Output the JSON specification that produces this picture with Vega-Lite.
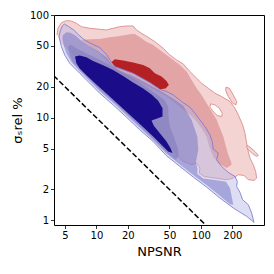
{
"$schema": "https://vega.github.io/schema/vega-lite/v6.json",
"width": 210, "height": 210,
"autosize": {"type": "none"},
"padding": {"left": 54, "top": 15, "right": 10, "bottom": 49},
"datasets": {
"poly": [
{"p":"R1","i":1,"x":4.198,"y":63.91},{"p":"R1","i":2,"x":4.291,"y":74.19},{"p":"R1","i":3,"x":4.619,"y":84.22},{"p":"R1","i":4,"x":5.158,"y":88.10},{"p":"R1","i":5,"x":5.760,"y":87.43},{"p":"R1","i":6,"x":6.430,"y":82.99},{"p":"R1","i":7,"x":7.181,"y":77.01},{"p":"R1","i":8,"x":8.633,"y":74.19},{"p":"R1","i":9,"x":10.76,"y":72.55},{"p":"R1","i":10,"x":12.47,"y":71.47},{"p":"R1","i":11,"x":14.45,"y":74.19},{"p":"R1","i":12,"x":16.73,"y":77.01},{"p":"R1","i":13,"x":19.39,"y":78.17},{"p":"R1","i":14,"x":22.46,"y":78.17},{"p":"R1","i":15,"x":24.17,"y":71.47},{"p":"R1","i":16,"x":27.00,"y":66.33},{"p":"R1","i":17,"x":31.28,"y":60.65},{"p":"R1","i":18,"x":36.24,"y":55.04},{"p":"R1","i":19,"x":43.55,"y":47.41},{"p":"R1","i":20,"x":50.46,"y":40.83},{"p":"R1","i":21,"x":58.46,"y":36.51},{"p":"R1","i":22,"x":67.72,"y":33.38},{"p":"R1","i":23,"x":78.45,"y":28.11},{"p":"R1","i":24,"x":90.88,"y":24.21},{"p":"R1","i":25,"x":101.5,"y":21.65},{"p":"R1","i":26,"x":117.6,"y":19.36},{"p":"R1","i":27,"x":136.2,"y":17.31},{"p":"R1","i":28,"x":157.8,"y":16.06},{"p":"R1","i":29,"x":189.7,"y":14.36},{"p":"R1","i":30,"x":211.8,"y":12.37},{"p":"R1","i":31,"x":228.0,"y":10.66},{"p":"R1","i":32,"x":250.8,"y":8.518},{"p":"R1","i":33,"x":264.1,"y":7.068},{"p":"R1","i":34,"x":274.0,"y":5.649},{"p":"R1","i":35,"x":284.2,"y":4.688},{"p":"R1","i":36,"x":294.9,"y":4.038},{"p":"R1","i":37,"x":317.4,"y":3.478},{"p":"R1","i":38,"x":334.2,"y":2.996},{"p":"R1","i":39,"x":341.6,"y":2.580},{"p":"R1","i":40,"x":322.1,"y":2.449},{"p":"R1","i":41,"x":284.2,"y":2.486},{"p":"R1","i":42,"x":258.4,"y":2.739},{"p":"R1","i":43,"x":228.0,"y":2.781},{"p":"R1","i":44,"x":204.2,"y":2.580},{"p":"R1","i":45,"x":176.2,"y":2.486},{"p":"R1","i":46,"x":136.2,"y":2.580},{"p":"R1","i":47,"x":106.9,"y":2.679},{"p":"R1","i":48,"x":96.40,"y":2.886},{"p":"R1","i":49,"x":97.81,"y":3.228},{"p":"R1","i":50,"x":90.88,"y":3.611},{"p":"R1","i":51,"x":81.39,"y":3.478},{"p":"R1","i":52,"x":67.72,"y":3.747},{"p":"R1","i":53,"x":58.46,"y":4.351},{"p":"R1","i":54,"x":46.87,"y":5.649},{"p":"R1","i":55,"x":37.59,"y":7.616},{"p":"R1","i":56,"x":22.46,"y":12.84},{"p":"R1","i":57,"x":13.42,"y":20.10},{"p":"R1","i":58,"x":8.021,"y":31.45},{"p":"R1","i":59,"x":5.975,"y":40.83},{"p":"R1","i":60,"x":4.619,"y":53.03},
{"p":"H","i":1,"x":123.8,"y":13.63},{"p":"H","i":2,"x":136.2,"y":13.33},{"p":"H","i":3,"x":149.9,"y":12.37},{"p":"H","i":4,"x":160.1,"y":11.06},{"p":"H","i":5,"x":157.8,"y":10.26},{"p":"H","i":6,"x":143.4,"y":10.50},{"p":"H","i":7,"x":131.3,"y":11.48},{"p":"H","i":8,"x":122.0,"y":12.65},{"p":"H","i":9,"x":123.8,"y":13.63},
{"p":"I1","i":1,"x":173.6,"y":19.80},{"p":"I1","i":2,"x":186.9,"y":19.36},{"p":"I1","i":3,"x":204.2,"y":16.67},{"p":"I1","i":4,"x":219.8,"y":14.36},{"p":"I1","i":5,"x":216.5,"y":13.33},{"p":"I1","i":6,"x":201.2,"y":13.84},{"p":"I1","i":7,"x":182.8,"y":16.06},{"p":"I1","i":8,"x":172.3,"y":18.38},{"p":"I1","i":9,"x":173.6,"y":19.80},
{"p":"I2","i":1,"x":278.0,"y":5.363},{"p":"I2","i":2,"x":294.9,"y":5.166},{"p":"I2","i":3,"x":329.3,"y":4.688},{"p":"I2","i":4,"x":354.4,"y":4.288},{"p":"I2","i":5,"x":341.6,"y":4.192},{"p":"I2","i":6,"x":312.8,"y":4.449},{"p":"I2","i":7,"x":284.2,"y":4.866},{"p":"I2","i":8,"x":274.0,"y":5.166},{"p":"I2","i":9,"x":278.0,"y":5.363},
{"p":"R2","i":1,"x":7.181,"y":57.14},{"p":"R2","i":2,"x":8.633,"y":58.00},{"p":"R2","i":3,"x":10.76,"y":58.43},{"p":"R2","i":4,"x":13.42,"y":60.65},{"p":"R2","i":5,"x":16.73,"y":62.49},{"p":"R2","i":6,"x":20.87,"y":64.86},{"p":"R2","i":7,"x":23.30,"y":65.35},{"p":"R2","i":8,"x":26.02,"y":60.65},{"p":"R2","i":9,"x":30.15,"y":55.04},{"p":"R2","i":10,"x":34.92,"y":51.08},{"p":"R2","i":11,"x":40.46,"y":45.66},{"p":"R2","i":12,"x":46.87,"y":40.83},{"p":"R2","i":13,"x":54.30,"y":36.51},{"p":"R2","i":14,"x":62.92,"y":32.64},{"p":"R2","i":15,"x":72.88,"y":28.11},{"p":"R2","i":16,"x":81.39,"y":23.33},{"p":"R2","i":17,"x":90.88,"y":19.36},{"p":"R2","i":18,"x":101.5,"y":16.67},{"p":"R2","i":19,"x":113.3,"y":13.84},{"p":"R2","i":20,"x":126.6,"y":11.48},{"p":"R2","i":21,"x":141.3,"y":9.526},{"p":"R2","i":22,"x":152.1,"y":7.905},{"p":"R2","i":23,"x":163.7,"y":6.560},{"p":"R2","i":24,"x":173.6,"y":5.243},{"p":"R2","i":25,"x":182.8,"y":4.351},{"p":"R2","i":26,"x":193.9,"y":3.747},{"p":"R2","i":27,"x":196.8,"y":3.478},{"p":"R2","i":28,"x":176.2,"y":3.228},{"p":"R2","i":29,"x":146.6,"y":3.611},{"p":"R2","i":30,"x":131.3,"y":4.192},{"p":"R2","i":31,"x":120.2,"y":5.243},{"p":"R2","i":32,"x":113.3,"y":6.560},{"p":"R2","i":33,"x":101.5,"y":7.905},{"p":"R2","i":34,"x":90.88,"y":9.177},{"p":"R2","i":35,"x":78.45,"y":10.66},{"p":"R2","i":36,"x":65.27,"y":12.37},{"p":"R2","i":37,"x":54.30,"y":14.36},{"p":"R2","i":38,"x":46.87,"y":16.06},{"p":"R2","i":39,"x":32.45,"y":19.80},{"p":"R2","i":40,"x":22.46,"y":23.33},{"p":"R2","i":41,"x":15.55,"y":28.11},{"p":"R2","i":42,"x":10.76,"y":42.39},{"p":"R2","i":43,"x":8.021,"y":51.08},
{"p":"R3","i":1,"x":13.92,"y":34.65},{"p":"R3","i":2,"x":14.99,"y":37.06},{"p":"R3","i":3,"x":18.01,"y":35.97},{"p":"R3","i":4,"x":22.46,"y":34.39},{"p":"R3","i":5,"x":28.01,"y":32.64},{"p":"R3","i":6,"x":32.45,"y":30.29},{"p":"R3","i":7,"x":36.24,"y":27.08},{"p":"R3","i":8,"x":41.98,"y":25.13},{"p":"R3","i":9,"x":46.87,"y":22.81},{"p":"R3","i":10,"x":49.36,"y":20.86},{"p":"R3","i":11,"x":45.85,"y":19.21},{"p":"R3","i":12,"x":40.46,"y":18.93},{"p":"R3","i":13,"x":32.45,"y":21.98},{"p":"R3","i":14,"x":22.46,"y":27.08},{"p":"R3","i":15,"x":14.99,"y":31.45},
{"p":"B1","i":1,"x":4.519,"y":70.39},{"p":"B1","i":2,"x":4.722,"y":78.17},{"p":"B1","i":3,"x":4.935,"y":81.75},{"p":"B1","i":4,"x":5.430,"y":77.01},{"p":"B1","i":5,"x":6.063,"y":71.47},{"p":"B1","i":6,"x":6.770,"y":63.91},{"p":"B1","i":7,"x":7.561,"y":58.00},{"p":"B1","i":8,"x":8.761,"y":53.03},{"p":"B1","i":9,"x":10.76,"y":48.12},{"p":"B1","i":10,"x":12.47,"y":41.45},{"p":"B1","i":11,"x":13.92,"y":34.65},{"p":"B1","i":12,"x":14.99,"y":31.45},{"p":"B1","i":13,"x":22.46,"y":27.08},{"p":"B1","i":14,"x":32.45,"y":21.98},{"p":"B1","i":15,"x":40.46,"y":18.93},{"p":"B1","i":16,"x":46.87,"y":17.97},{"p":"B1","i":17,"x":54.30,"y":16.67},{"p":"B1","i":18,"x":65.27,"y":14.36},{"p":"B1","i":19,"x":78.45,"y":12.65},{"p":"B1","i":20,"x":87.59,"y":11.06},{"p":"B1","i":21,"x":97.81,"y":9.526},{"p":"B1","i":22,"x":109.2,"y":8.206},{"p":"B1","i":23,"x":122.0,"y":6.810},{"p":"B1","i":24,"x":128.4,"y":5.865},{"p":"B1","i":25,"x":131.3,"y":4.940},{"p":"B1","i":26,"x":146.6,"y":4.516},{"p":"B1","i":27,"x":141.3,"y":3.890},{"p":"B1","i":28,"x":157.8,"y":3.351},{"p":"B1","i":29,"x":182.8,"y":2.930},{"p":"B1","i":30,"x":211.8,"y":2.679},{"p":"B1","i":31,"x":223.0,"y":2.395},{"p":"B1","i":32,"x":219.8,"y":2.141},{"p":"B1","i":33,"x":236.5,"y":1.872},{"p":"B1","i":34,"x":250.8,"y":1.589},{"p":"B1","i":35,"x":284.2,"y":1.420},{"p":"B1","i":36,"x":305.9,"y":1.178},{"p":"B1","i":37,"x":322.1,"y":0.956},{"p":"B1","i":38,"x":274.0,"y":1.094},{"p":"B1","i":39,"x":204.2,"y":1.318},{"p":"B1","i":40,"x":152.1,"y":1.649},{"p":"B1","i":41,"x":113.3,"y":2.109},{"p":"B1","i":42,"x":84.44,"y":2.639},{"p":"B1","i":43,"x":62.92,"y":3.351},{"p":"B1","i":44,"x":46.87,"y":4.255},{"p":"B1","i":45,"x":34.92,"y":5.865},{"p":"B1","i":46,"x":26.02,"y":7.616},{"p":"B1","i":47,"x":19.39,"y":10.11},{"p":"B1","i":48,"x":14.45,"y":13.33},{"p":"B1","i":49,"x":10.76,"y":17.31},{"p":"B1","i":50,"x":8.633,"y":21.65},{"p":"B1","i":51,"x":6.922,"y":27.08},{"p":"B1","i":52,"x":5.552,"y":33.88},{"p":"B1","i":53,"x":4.972,"y":40.83},{"p":"B1","i":54,"x":4.619,"y":49.21},{"p":"B1","i":55,"x":4.387,"y":61.56},{"p":"B1","i":56,"x":4.519,"y":70.39},
{"p":"B2","i":1,"x":4.792,"y":63.91},{"p":"B2","i":2,"x":5.158,"y":67.83},{"p":"B2","i":3,"x":5.634,"y":67.33},{"p":"B2","i":4,"x":6.197,"y":63.91},{"p":"B2","i":5,"x":7.024,"y":57.14},{"p":"B2","i":6,"x":8.139,"y":51.08},{"p":"B2","i":7,"x":10.15,"y":45.00},{"p":"B2","i":8,"x":12.47,"y":38.75},{"p":"B2","i":9,"x":14.45,"y":31.92},{"p":"B2","i":10,"x":16.73,"y":28.74},{"p":"B2","i":11,"x":22.46,"y":25.51},{"p":"B2","i":12,"x":32.45,"y":20.86},{"p":"B2","i":13,"x":43.55,"y":17.56},{"p":"B2","i":14,"x":54.30,"y":15.36},{"p":"B2","i":15,"x":67.72,"y":13.03},{"p":"B2","i":16,"x":81.39,"y":9.526},{"p":"B2","i":17,"x":92.24,"y":6.560},{"p":"B2","i":18,"x":94.28,"y":4.866},{"p":"B2","i":19,"x":89.56,"y":3.664},{"p":"B2","i":20,"x":92.92,"y":3.157},{"p":"B2","i":21,"x":92.24,"y":2.843},{"p":"B2","i":22,"x":105.3,"y":2.561},{"p":"B2","i":23,"x":136.2,"y":2.467},{"p":"B2","i":24,"x":173.6,"y":2.377},{"p":"B2","i":25,"x":189.7,"y":2.063},{"p":"B2","i":26,"x":198.2,"y":1.649},{"p":"B2","i":27,"x":204.2,"y":1.420},{"p":"B2","i":28,"x":189.7,"y":1.431},{"p":"B2","i":29,"x":152.1,"y":1.738},{"p":"B2","i":30,"x":113.3,"y":2.206},{"p":"B2","i":31,"x":84.44,"y":2.760},{"p":"B2","i":32,"x":62.92,"y":3.504},{"p":"B2","i":33,"x":46.87,"y":4.449},{"p":"B2","i":34,"x":34.92,"y":6.042},{"p":"B2","i":35,"x":26.02,"y":7.964},{"p":"B2","i":36,"x":19.39,"y":10.58},{"p":"B2","i":37,"x":14.45,"y":13.94},{"p":"B2","i":38,"x":10.76,"y":18.10},{"p":"B2","i":39,"x":8.633,"y":22.64},{"p":"B2","i":40,"x":6.922,"y":28.32},{"p":"B2","i":41,"x":5.760,"y":34.91},{"p":"B2","i":42,"x":5.158,"y":42.39},{"p":"B2","i":43,"x":4.863,"y":51.08},{"p":"B2","i":44,"x":4.722,"y":59.31},
{"p":"B3","i":1,"x":5.351,"y":49.21},{"p":"B3","i":2,"x":5.760,"y":51.08},{"p":"B3","i":3,"x":6.672,"y":46.36},{"p":"B3","i":4,"x":8.021,"y":42.39},{"p":"B3","i":5,"x":10.0,"y":37.90},{"p":"B3","i":6,"x":12.47,"y":33.88},{"p":"B3","i":7,"x":14.99,"y":30.29},{"p":"B3","i":8,"x":18.01,"y":27.08},{"p":"B3","i":9,"x":22.46,"y":24.21},{"p":"B3","i":10,"x":30.15,"y":19.80},{"p":"B3","i":11,"x":37.59,"y":17.05},{"p":"B3","i":12,"x":45.19,"y":14.69},{"p":"B3","i":13,"x":48.63,"y":12.65},{"p":"B3","i":14,"x":48.63,"y":10.66},{"p":"B3","i":15,"x":50.46,"y":8.206},{"p":"B3","i":16,"x":56.33,"y":6.087},{"p":"B3","i":17,"x":60.64,"y":4.866},{"p":"B3","i":18,"x":60.64,"y":4.192},{"p":"B3","i":19,"x":57.60,"y":3.890},{"p":"B3","i":20,"x":46.87,"y":4.618},{"p":"B3","i":21,"x":34.92,"y":6.272},{"p":"B3","i":22,"x":26.02,"y":8.267},{"p":"B3","i":23,"x":19.39,"y":10.98},{"p":"B3","i":24,"x":14.45,"y":14.47},{"p":"B3","i":25,"x":10.76,"y":18.79},{"p":"B3","i":26,"x":8.633,"y":23.50},{"p":"B3","i":27,"x":6.922,"y":29.40},{"p":"B3","i":28,"x":5.975,"y":34.39},{"p":"B3","i":29,"x":5.552,"y":40.83},
{"p":"B4","i":1,"x":6.243,"y":39.34},{"p":"B4","i":2,"x":6.922,"y":40.22},{"p":"B4","i":3,"x":8.021,"y":38.75},{"p":"B4","i":4,"x":9.291,"y":35.70},{"p":"B4","i":5,"x":11.59,"y":32.40},{"p":"B4","i":6,"x":14.45,"y":29.19},{"p":"B4","i":7,"x":18.01,"y":25.51},{"p":"B4","i":8,"x":22.46,"y":21.98},{"p":"B4","i":9,"x":28.01,"y":19.21},{"p":"B4","i":10,"x":33.68,"y":16.80},{"p":"B4","i":11,"x":39.01,"y":14.58},{"p":"B4","i":12,"x":42.92,"y":12.37},{"p":"B4","i":13,"x":42.92,"y":10.26},{"p":"B4","i":14,"x":37.59,"y":9.743},{"p":"B4","i":15,"x":33.68,"y":9.385},{"p":"B4","i":16,"x":35.44,"y":8.330},{"p":"B4","i":17,"x":40.46,"y":7.068},{"p":"B4","i":18,"x":46.87,"y":5.865},{"p":"B4","i":19,"x":51.21,"y":5.051},{"p":"B4","i":20,"x":53.51,"y":4.516},{"p":"B4","i":21,"x":48.63,"y":4.688},{"p":"B4","i":22,"x":34.92,"y":6.560},{"p":"B4","i":23,"x":24.53,"y":9.177},{"p":"B4","i":24,"x":18.01,"y":12.19},{"p":"B4","i":25,"x":13.42,"y":16.06},{"p":"B4","i":26,"x":10.0,"y":21.01},{"p":"B4","i":27,"x":8.021,"y":25.90},{"p":"B4","i":28,"x":6.922,"y":30.07},{"p":"B4","i":29,"x":6.430,"y":33.88}
],
"ref": [{"i":1,"x":3.9,"y":25.64},{"i":2,"x":112,"y":0.8929}]
},
"encoding": {
"x": {"field":"x","type":"quantitative","scale":{"type":"log","domain":[3.928,401.6],"nice":false},"axis":{"values":[5,10,20,50,100,200],"format":"~g","title":"NPSNR","labelPadding":2,"titlePadding":5}},
"y": {"field":"y","type":"quantitative","scale":{"type":"log","domain":[0.901,100],"nice":false},"axis":{"values":[1,2,5,10,20,50,100],"format":"~g","title":"σₛrel %","labelPadding":2,"titlePadding":5}},
"order": {"field":"i","type":"quantitative"}
},
"layer": [
{"data":{"name":"poly"},"transform":[{"filter":"datum.p=='R1'"}],"mark":{"type":"line","fill":"#f4d3d3","strokeWidth":0}},
{"data":{"name":"poly"},"transform":[{"filter":"datum.p=='R1' && datum.i<=53"}],"mark":{"type":"line","color":"#d98080","strokeWidth":0.8}},
{"data":{"name":"poly"},"transform":[{"filter":"datum.p=='H'"}],"mark":{"type":"line","fill":"white","color":"#d98080","strokeWidth":0.8}},
{"data":{"name":"poly"},"transform":[{"filter":"datum.p=='I1' || datum.p=='I2'"}],"mark":{"type":"line","fill":"#f4d3d3","color":"#d98080","strokeWidth":0.8},"encoding":{"detail":{"field":"p"}}},
{"data":{"name":"poly"},"transform":[{"filter":"datum.p=='R2'"}],"mark":{"type":"line","fill":"#e2a4a4","strokeWidth":0}},
{"data":{"name":"poly"},"transform":[{"filter":"datum.p=='R3'"}],"mark":{"type":"line","fill":"#b42024","strokeWidth":0}},
{"data":{"name":"poly"},"transform":[{"filter":"datum.p=='B1'"}],"mark":{"type":"line","fill":"#b4b4e4","fillOpacity":0.45,"color":"#7474d0","strokeWidth":0.8}},
{"data":{"name":"poly"},"transform":[{"filter":"datum.p=='B2'"}],"mark":{"type":"line","fill":"#6f6fc1","fillOpacity":0.5,"strokeWidth":0}},
{"data":{"name":"poly"},"transform":[{"filter":"datum.p=='B3'"}],"mark":{"type":"line","fill":"#7c76b8","fillOpacity":0.5,"strokeWidth":0}},
{"data":{"name":"poly"},"transform":[{"filter":"datum.p=='B4'"}],"mark":{"type":"line","fill":"#1b0c8a","strokeWidth":0}},
{"data":{"name":"ref"},"mark":{"type":"line","color":"black","strokeWidth":1.5,"strokeDash":[5.5,2.4],"clip":true}}
],
"config": {
"font":"DejaVu Sans",
"view": {"stroke":"black","strokeWidth":1},
"axis": {"labelFont":"DejaVu Sans","labelFontSize":10,"labelColor":"black","titleFont":"DejaVu Sans","titleFontSize":13,"titleFontWeight":"normal","titleColor":"black","tickColor":"black","tickWidth":0.8,"tickSize":3.5,"domain":false,"grid":false}
}
}
